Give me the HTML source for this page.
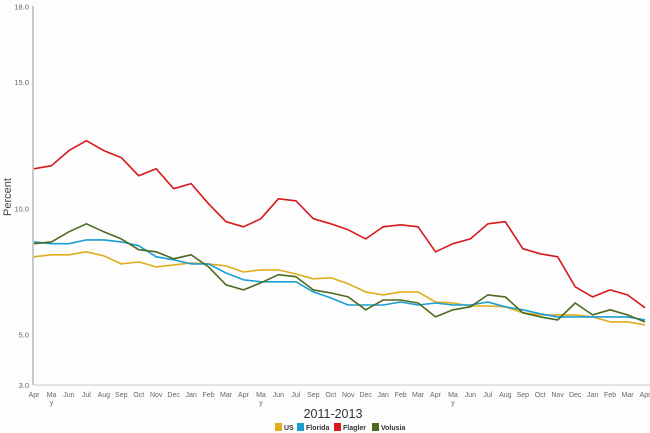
<!DOCTYPE html>
<html><head><meta charset="utf-8"><style>
body{margin:0;background:#fdfdfd;font-family:"Liberation Sans",sans-serif}
svg{display:block}
</style></head><body>
<svg width="650" height="433" id="chart"></svg>
<script>
const months=["Apr","Ma y","Jun","Jul","Aug","Sep","Oct","Nov","Dec","Jan","Feb","Mar","Apr","Ma y","Jun","Jul","Sep","Oct","Nov","Dec","Jan","Feb","Mar","Apr","Ma y","Jun","Jul","Aug","Sep","Oct","Nov","Dec","Jan","Feb","Mar","Apr"];
const yTicks=[3.0,5.0,10.0,15.0,18.0];
const us=[8.08,8.16,8.16,8.28,8.12,7.80,7.88,7.68,7.76,7.84,7.80,7.72,7.48,7.56,7.56,7.40,7.21,7.25,7.01,6.69,6.57,6.69,6.69,6.29,6.25,6.13,6.13,6.10,5.86,5.78,5.78,5.78,5.70,5.50,5.50,5.38];
const florida=[8.67,8.60,8.60,8.75,8.75,8.67,8.52,8.08,7.96,7.80,7.80,7.44,7.17,7.09,7.09,7.09,6.69,6.45,6.17,6.17,6.17,6.29,6.17,6.25,6.17,6.17,6.29,6.10,5.98,5.82,5.70,5.70,5.70,5.70,5.70,5.58];
const flagler=[11.57,11.69,12.29,12.68,12.29,12.01,11.29,11.57,10.78,10.98,10.18,9.47,9.27,9.59,10.38,10.30,9.59,9.39,9.15,8.79,9.27,9.35,9.27,8.28,8.60,8.79,9.39,9.47,8.40,8.20,8.08,6.89,6.49,6.77,6.57,6.06];
const volusia=[8.60,8.67,9.07,9.39,9.07,8.79,8.36,8.28,8.00,8.16,7.68,6.97,6.77,7.05,7.37,7.29,6.77,6.65,6.49,5.98,6.37,6.37,6.25,5.70,5.98,6.10,6.57,6.49,5.86,5.70,5.58,6.25,5.78,5.98,5.78,5.50];
const seriesNames=["US","Florida","Flagler","Volusia"];
const seriesColors=["#e0ac1c","#1b9ed3","#d7191c","#4d6b1f"];
const seriesData=[us,florida,flagler,volusia];

const NS="http://www.w3.org/2000/svg";
const svg=document.getElementById('chart');
const X0=34,X1=645,Y0=385,Y1=6.5,VMIN=3,VMAX=18;
const xs=i=>X0+i*(X1-X0)/(months.length-1);
const ys=v=>Y0-(v-VMIN)*(Y0-Y1)/(VMAX-VMIN);
function mk(tag,attrs,parent){const e=document.createElementNS(NS,tag);for(const k in attrs)e.setAttribute(k,attrs[k]);(parent||svg).appendChild(e);return e;}

const ax=mk('line',{x1:33,y1:6,x2:33,y2:385,stroke:'#c8c8c8','stroke-width':2});


const bx=mk('line',{x1:33,y1:385,x2:650,y2:385,stroke:'#c8c8c8','stroke-width':1});



yTicks.forEach(t=>{
  const e=mk('text',{x:29,y:ys(t)+3,'text-anchor':'end','font-size':7.5,fill:'#666'});
  e.textContent=t.toFixed(1);
  
  
});
const yt=mk('text',{x:0,y:0,transform:'translate(11,197) rotate(-90)','text-anchor':'middle','font-size':11,fill:'#444'});
yt.textContent='Percent';



months.forEach((m,i)=>{
  const parts=m.split(' ');
  const e=mk('text',{x:xs(i),y:397,'text-anchor':'middle','font-size':7,fill:'#666'});
  e.textContent=parts[0];
  
  
  if(parts[1]){const e2=mk('text',{x:xs(i),y:405,'text-anchor':'middle','font-size':7,fill:'#666'});e2.textContent=parts[1];
    
    }
});
const xt=mk('text',{x:333,y:418,'text-anchor':'middle','font-size':12.5,fill:'#333'});
xt.textContent='2011-2013';



seriesData.forEach((d,s)=>{
  const p=mk('polyline',{points:d.map((v,i)=>xs(i).toFixed(1)+','+ys(v).toFixed(1)).join(' '),fill:'none',stroke:seriesColors[s],'stroke-width':1.6,'stroke-linejoin':'round'});
  
  
});

let lx=275;
const widths=[22,37,38,38];
seriesNames.forEach((n,s)=>{
  const g=mk('g',{});
  
  
  mk('rect',{x:lx,y:423,width:7,height:8,fill:seriesColors[s]},g);
  const t=mk('text',{x:lx+9,y:430,'font-size':7,'font-weight':'bold',fill:'#333'},g);
  t.textContent=n;
  lx+=widths[s];
});
</script>
</body></html>
